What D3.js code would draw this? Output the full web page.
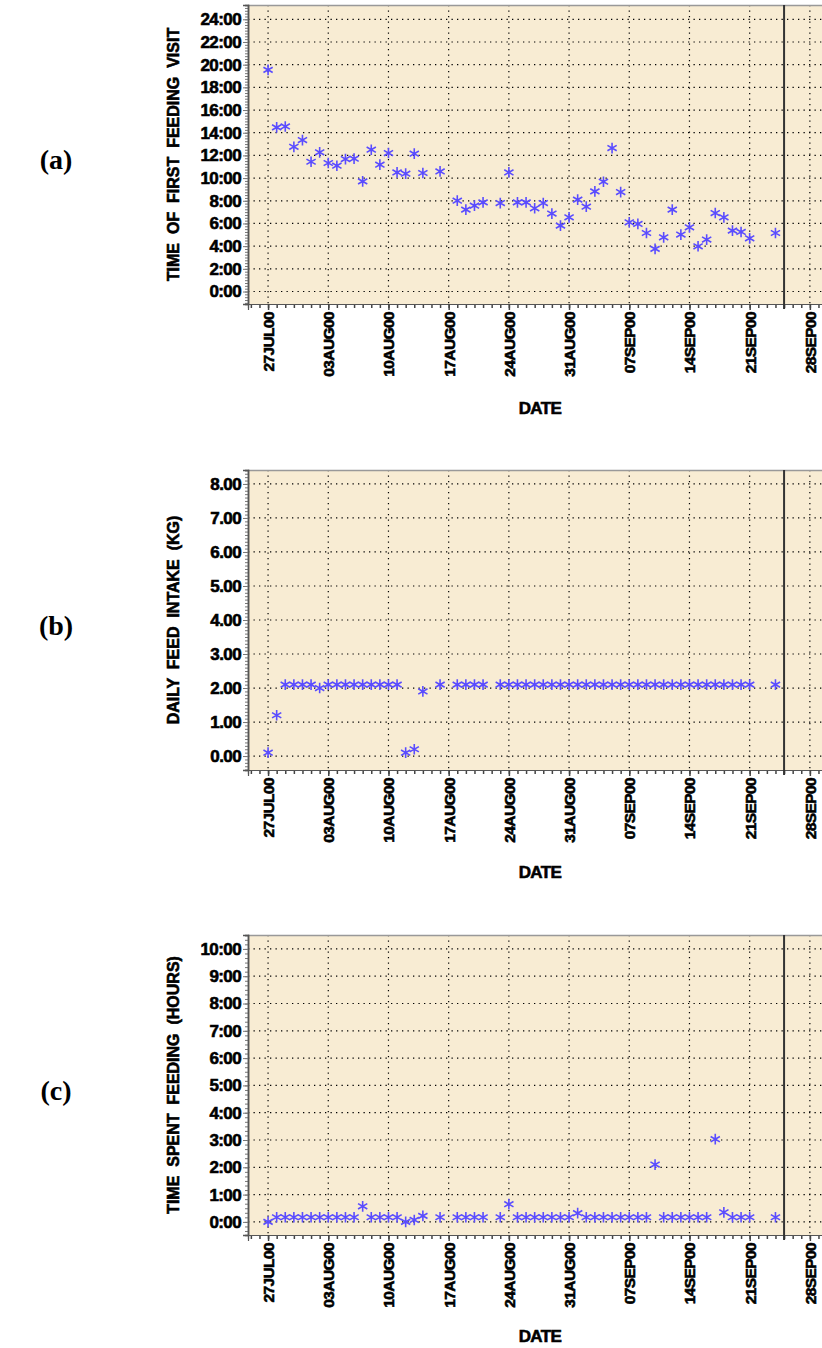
<!DOCTYPE html>
<html>
<head>
<meta charset="utf-8">
<title>Feeding behaviour</title>
<style>
  body { margin: 0; background: #fff; }
  svg text { font-family: "Liberation Sans", Arial, sans-serif; }
</style>
</head>
<body>
<script src="https://cdn.jsdelivr.net/npm/d3@7"></script>
<script>

// dates with a record (2000)
var dates = [
  "2000-07-27","2000-07-28","2000-07-29","2000-07-30","2000-07-31",
  "2000-08-01","2000-08-02","2000-08-03","2000-08-04","2000-08-05",
  "2000-08-06","2000-08-07","2000-08-08","2000-08-09","2000-08-10",
  "2000-08-11","2000-08-12","2000-08-13","2000-08-14","2000-08-16",
  "2000-08-18","2000-08-19","2000-08-20","2000-08-21","2000-08-23",
  "2000-08-24","2000-08-25","2000-08-26","2000-08-27","2000-08-28",
  "2000-08-29","2000-08-30","2000-08-31","2000-09-01","2000-09-02",
  "2000-09-03","2000-09-04","2000-09-05","2000-09-06","2000-09-07",
  "2000-09-08","2000-09-09","2000-09-10","2000-09-11","2000-09-12",
  "2000-09-13","2000-09-14","2000-09-15","2000-09-16","2000-09-17",
  "2000-09-18","2000-09-19","2000-09-20","2000-09-21","2000-09-24"
];

// (a) time of first feeding visit, hours of day
var firstVisit = [
  19.54, 14.47, 14.55, 12.76, 13.35, 11.44, 12.27, 11.33, 11.09, 11.68,
  11.71, 9.71, 12.50, 11.18, 12.21, 10.50, 10.39, 12.15, 10.45, 10.59,
  8.01, 7.22, 7.57, 7.86, 7.80, 10.50, 7.86, 7.86, 7.34, 7.80,
  6.87, 5.81, 6.54, 8.10, 7.48, 8.83, 9.68, 12.65, 8.77, 6.10,
  5.96, 5.16, 3.76, 4.78, 7.22, 5.02, 5.66, 3.99, 4.58, 6.92,
  6.54, 5.37, 5.25, 4.69, 5.16
];

// (b) daily feed intake, kg
var feedIntake = [
  0.10, 1.20, 2.10, 2.10, 2.10, 2.10, 2.00, 2.10, 2.10, 2.10,
  2.10, 2.10, 2.10, 2.10, 2.10, 2.10, 0.10, 0.20, 1.90, 2.10,
  2.10, 2.10, 2.10, 2.10, 2.10, 2.10, 2.10, 2.10, 2.10, 2.10,
  2.10, 2.10, 2.10, 2.10, 2.10, 2.10, 2.10, 2.10, 2.10, 2.10,
  2.10, 2.10, 2.10, 2.10, 2.10, 2.10, 2.10, 2.10, 2.10, 2.10,
  2.10, 2.10, 2.10, 2.10, 2.10
];

// (c) time spent feeding, hours
var timeFeeding = [
  0.00, 0.17, 0.17, 0.17, 0.17, 0.17, 0.17, 0.17, 0.17, 0.17,
  0.17, 0.57, 0.17, 0.17, 0.17, 0.17, 0.00, 0.07, 0.22, 0.17,
  0.17, 0.17, 0.17, 0.17, 0.17, 0.65, 0.17, 0.17, 0.17, 0.17,
  0.17, 0.17, 0.17, 0.32, 0.17, 0.17, 0.17, 0.17, 0.17, 0.17,
  0.17, 0.17, 2.10, 0.17, 0.17, 0.17, 0.17, 0.17, 0.17, 3.03,
  0.35, 0.17, 0.17, 0.17, 0.17
];

var hourTicksA = [0, 2, 4, 6, 8, 10, 12, 14, 16, 18, 20, 22, 24];
var kgTicks = [0, 1, 2, 3, 4, 5, 6, 7, 8];
var hourTicksC = [0, 1, 2, 3, 4, 5, 6, 7, 8, 9, 10];
var refDate = "2000-09-25";
var firstTick = "2000-07-27";

var parse = d3.utcParse("%Y-%m-%d");
var fmtDate = function(d) { return d3.utcFormat("%d%b%y")(d).toUpperCase(); };
var fmtHour = function(h) { return h + ":00"; };
var fmtKg = d3.format(".2f");

var W = 822, H = 1348;
var left = 248, right = 850;
var bg = "#f8ecd3", ink = "#5a4cff";

var svg = d3.select("body").append("svg")
  .attr("width", W).attr("height", H);

var t0 = parse(firstTick);
var x = d3.scaleUtc()
  .domain([d3.utcHour.offset(t0, -56), d3.utcHour.offset(t0, 24 * 67.67)])
  .range([left, right]);

var panels = [
  { tag: "(a)", top: 5, bottom: 304, dom: [-1.1, 25.26], ticks: hourTicksA, minor: 0.25,
    fmt: fmtHour, title: "TIME  OF  FIRST  FEEDING  VISIT", values: firstVisit, dateY: 408 },
  { tag: "(b)", top: 470, bottom: 770, dom: [-0.41, 8.41], ticks: kgTicks, minor: 0.1,
    fmt: fmtKg, title: "DAILY  FEED  INTAKE  (KG)", values: feedIntake, dateY: 872 },
  { tag: "(c)", top: 935, bottom: 1235, dom: [-0.48, 10.51], ticks: hourTicksC, minor: 1 / 6,
    fmt: fmtHour, title: "TIME  SPENT  FEEDING  (HOURS)", values: timeFeeding, dateY: 1336 }
];

var majorDays = d3.utcDay.range(t0, d3.utcDay.offset(t0, 66), 7);
var minorDays = d3.utcDay.range(d3.utcDay.offset(t0, -2), d3.utcDay.offset(t0, 68));
var star = d3.symbol().type(d3.symbolAsterisk).size(80);

// heavy sans look, like the original plot font
function heavy(sel, size) {
  return sel.attr("font-size", size).attr("font-weight", "bold")
    .attr("fill", "#000").attr("stroke", "#000").attr("stroke-width", 0.6)
    .attr("letter-spacing", "-0.6");
}

panels.forEach(function(p) {
  var y = d3.scaleLinear().domain(p.dom).range([p.bottom, p.top]);
  var g = svg.append("g");

  // plot background
  g.append("rect")
    .attr("x", left).attr("y", p.top)
    .attr("width", right - left).attr("height", p.bottom - p.top)
    .attr("fill", bg);

  // dotted grid
  g.selectAll(".hg").data(p.ticks).enter().append("line")
    .attr("x1", left).attr("x2", right)
    .attr("y1", function(d) { return y(d); }).attr("y2", function(d) { return y(d); })
    .attr("stroke", "#000").attr("stroke-width", 1.2).attr("stroke-dasharray", "1.3,4.2");
  g.selectAll(".vg").data(majorDays).enter().append("line")
    .attr("x1", function(d) { return x(d); }).attr("x2", function(d) { return x(d); })
    .attr("y1", p.top).attr("y2", p.bottom)
    .attr("stroke", "#000").attr("stroke-width", 1.2).attr("stroke-dasharray", "1.3,4.2");

  // frame: top edge
  g.append("line").attr("x1", left).attr("x2", right).attr("y1", p.top + 0.5).attr("y2", p.top + 0.5)
    .attr("stroke", "#999").attr("stroke-width", 1.5);

  // y axis
  var minor = d3.range(Math.ceil(p.dom[0] / p.minor), Math.floor(p.dom[1] / p.minor) + 1)
    .map(function(i) { return i * p.minor; });
  var yAxis = d3.axisLeft(y).tickValues(minor).tickSize(3).tickFormat("");
  var ya = g.append("g").attr("transform", "translate(" + left + ",0)").call(yAxis);
  var yMajor = d3.axisLeft(y).tickValues(p.ticks).tickSize(5).tickPadding(2).tickFormat(p.fmt);
  var yb = g.append("g").attr("transform", "translate(" + left + ",0)").call(yMajor);
  [ya, yb].forEach(function(a) {
    a.select(".domain").attr("stroke", "#555").attr("stroke-width", 1.5);
    a.selectAll(".tick line").attr("stroke", "#777");
  });
  heavy(yb.selectAll("text"), 17);

  // x axis
  var xMinor = d3.axisBottom(x).tickValues(minorDays).tickSize(4).tickFormat("");
  var xa = g.append("g").attr("transform", "translate(0," + p.bottom + ")").call(xMinor);
  var xMajor = d3.axisBottom(x).tickValues(majorDays).tickSize(6).tickFormat(fmtDate);
  var xb = g.append("g").attr("transform", "translate(0," + p.bottom + ")").call(xMajor);
  [xa, xb].forEach(function(a) {
    a.select(".domain").attr("stroke", "#555").attr("stroke-width", 1.2);
    a.selectAll(".tick line").attr("stroke", "#444").attr("stroke-width", 1.5);
  });
  xb.selectAll("text")
    .attr("transform", "rotate(-90)")
    .attr("text-anchor", "end")
    .attr("x", -8).attr("y", 0).attr("dy", "0.35em");
  heavy(xb.selectAll("text"), 15.5);

  // reference line
  g.append("line")
    .attr("x1", x(parse(refDate))).attr("x2", x(parse(refDate)))
    .attr("y1", p.top).attr("y2", p.bottom + 5)
    .attr("stroke", "#333").attr("stroke-width", 2);

  // points
  g.selectAll(".pt").data(p.values).enter().append("path")
    .attr("d", star)
    .attr("transform", function(d, i) { return "translate(" + x(parse(dates[i])) + "," + y(d) + ")"; })
    .attr("fill", "none").attr("stroke", ink).attr("stroke-width", 1.6);

  // titles
  heavy(g.append("text")
    .attr("transform", "translate(179," + ((p.top + p.bottom) / 2) + ") rotate(-90)")
    .attr("text-anchor", "middle")
    .style("white-space", "pre")
    .text(p.title), 16)
    .attr("letter-spacing", "0");

  heavy(g.append("text")
    .attr("x", 540).attr("y", p.dateY).attr("dy", "0.35em")
    .attr("text-anchor", "middle")
    .text("DATE"), 17);

  g.append("text")
    .attr("x", 56).attr("y", (p.top + p.bottom) / 2 + 5).attr("dy", "0.35em")
    .attr("text-anchor", "middle")
    .style("font-family", "'Liberation Serif', 'Times New Roman', serif")
    .attr("font-size", 28).attr("font-weight", "bold")
    .text(p.tag);
});

</script>
</body>
</html>
